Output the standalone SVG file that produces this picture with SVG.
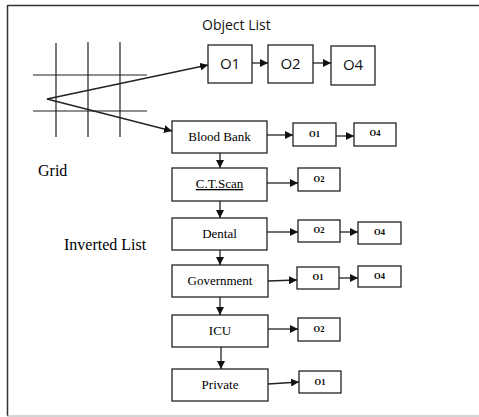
<svg xmlns="http://www.w3.org/2000/svg" width="479" height="417" viewBox="0 0 479 417">
<style>
.bx{fill:#fff;stroke:#222;stroke-width:1.3}
.ln{fill:none;stroke:#222;stroke-width:1.3}
.gl{fill:none;stroke:#222;stroke-width:1.2}
.sans{font-family:"Open Sans","Liberation Sans",sans-serif;fill:#111}
.ser{font-family:"Liberation Serif","Times New Roman",serif;fill:#000}
.big{font-size:15px;text-anchor:middle}
.mid{font-size:13px;text-anchor:middle}
.sm{font-size:8.5px;font-weight:bold;text-anchor:middle}
</style>
<defs>
<marker id="ah" viewBox="0 0 10 10" refX="10" refY="5" markerWidth="8" markerHeight="8" markerUnits="userSpaceOnUse" orient="auto">
<path d="M0,0 L10,5 L0,10 z" fill="#111"/>
</marker>
</defs>
<rect width="479" height="417" fill="#fff"/>
<g id="frame">
<line x1="7.5" y1="5.5" x2="479" y2="5.5" stroke="#333" stroke-width="1.5"/>
<line x1="7.5" y1="5" x2="7.5" y2="416" stroke="#333" stroke-width="1.5"/>
<line x1="7" y1="416" x2="479" y2="416" stroke="#aaa" stroke-width="1"/>
</g>
<g id="grid">
<line class="gl" x1="56" y1="43" x2="56" y2="137"/>
<line class="gl" x1="88" y1="42" x2="88" y2="137"/>
<line class="gl" x1="120" y1="42" x2="120" y2="137"/>
<line class="gl" x1="33" y1="75" x2="147" y2="75"/>
<line class="gl" x1="33" y1="111" x2="147" y2="111"/>
</g>
<g id="labels">
<text class="sans" x="202" y="30" font-size="14">Object List</text>
<text class="ser" x="38" y="176" font-size="16">Grid</text>
<text class="ser" x="64" y="250" font-size="16">Inverted List</text>
</g>
<g id="obj-o1"><rect class="bx" x="208" y="45" width="44" height="38"/><text class="sans big" x="230" y="69">O1</text></g>
<g id="obj-o2"><rect class="bx" x="268" y="45" width="45" height="38"/><text class="sans big" x="290.5" y="69">O2</text></g>
<g id="obj-o4"><rect class="bx" x="331" y="46" width="44" height="39"/><text class="sans big" x="353" y="70">O4</text></g>

<g id="bloodbank"><rect class="bx" x="172" y="121" width="95" height="32"/><text class="ser mid" x="219.5" y="141">Blood Bank</text></g>
<g id="bb-o1"><rect class="bx" x="293" y="123" width="43" height="23"/><text class="ser sm" x="314.5" y="137">O1</text></g>
<g id="bb-o4"><rect class="bx" x="354" y="123" width="42" height="23"/><text class="ser sm" x="375" y="136">O4</text></g>

<g id="ctscan"><rect class="bx" x="172" y="168" width="95" height="33"/><text class="ser mid" x="219.5" y="188" text-decoration="underline">C.T.Scan</text></g>
<g id="ct-o2"><rect class="bx" x="298" y="168" width="42" height="23"/><text class="ser sm" x="319" y="182">O2</text></g>

<g id="dental"><rect class="bx" x="172" y="218" width="95" height="32"/><text class="ser mid" x="219.5" y="238">Dental</text></g>
<g id="de-o2"><rect class="bx" x="298" y="220" width="42" height="22"/><text class="ser sm" x="319" y="233">O2</text></g>
<g id="de-o4"><rect class="bx" x="358" y="222" width="43" height="22"/><text class="ser sm" x="379.5" y="235">O4</text></g>

<g id="government"><rect class="bx" x="172" y="265" width="96" height="32"/><text class="ser mid" x="220" y="285">Government</text></g>
<g id="go-o1"><rect class="bx" x="297" y="267" width="42" height="22"/><text class="ser sm" x="318" y="280">O1</text></g>
<g id="go-o4"><rect class="bx" x="358" y="266" width="43" height="21"/><text class="ser sm" x="379.5" y="279">O4</text></g>

<g id="icu"><rect class="bx" x="172" y="315" width="96" height="32"/><text class="ser mid" x="220" y="335">ICU</text></g>
<g id="icu-o2"><rect class="bx" x="298" y="318" width="42" height="23"/><text class="ser sm" x="319" y="332">O2</text></g>

<g id="private"><rect class="bx" x="172" y="369" width="96" height="32"/><text class="ser mid" x="220" y="389">Private</text></g>
<g id="pr-o1"><rect class="bx" x="299" y="371" width="42" height="22"/><text class="ser sm" x="320" y="385">O1</text></g>

<g id="connectors">
<line class="ln" x1="47" y1="99" x2="208" y2="65" marker-end="url(#ah)"/>
<line class="ln" x1="47" y1="99" x2="172" y2="131" marker-end="url(#ah)"/>
<line class="ln" x1="252" y1="63" x2="268" y2="63" marker-end="url(#ah)"/>
<line class="ln" x1="313" y1="63" x2="331" y2="63" marker-end="url(#ah)"/>

<line class="ln" x1="267" y1="135" x2="293" y2="135" marker-end="url(#ah)"/>
<line class="ln" x1="336" y1="136" x2="354" y2="136" marker-end="url(#ah)"/>
<line class="ln" x1="267" y1="183" x2="298" y2="183" marker-end="url(#ah)"/>
<line class="ln" x1="267" y1="232" x2="298" y2="232" marker-end="url(#ah)"/>
<line class="ln" x1="340" y1="232" x2="358" y2="232" marker-end="url(#ah)"/>
<line class="ln" x1="268" y1="281" x2="297" y2="280" marker-end="url(#ah)"/>
<line class="ln" x1="339" y1="278" x2="358" y2="278" marker-end="url(#ah)"/>
<line class="ln" x1="268" y1="329" x2="298" y2="329" marker-end="url(#ah)"/>
<line class="ln" x1="268" y1="384" x2="299" y2="382" marker-end="url(#ah)"/>

<line class="ln" x1="220" y1="153" x2="220" y2="168" marker-end="url(#ah)"/>
<line class="ln" x1="220" y1="201" x2="220" y2="218" marker-end="url(#ah)"/>
<line class="ln" x1="220" y1="250" x2="220" y2="265" marker-end="url(#ah)"/>
<line class="ln" x1="220" y1="297" x2="220" y2="315" marker-end="url(#ah)"/>
<line class="ln" x1="221" y1="347" x2="221" y2="369" marker-end="url(#ah)"/>
</g>
</svg>
